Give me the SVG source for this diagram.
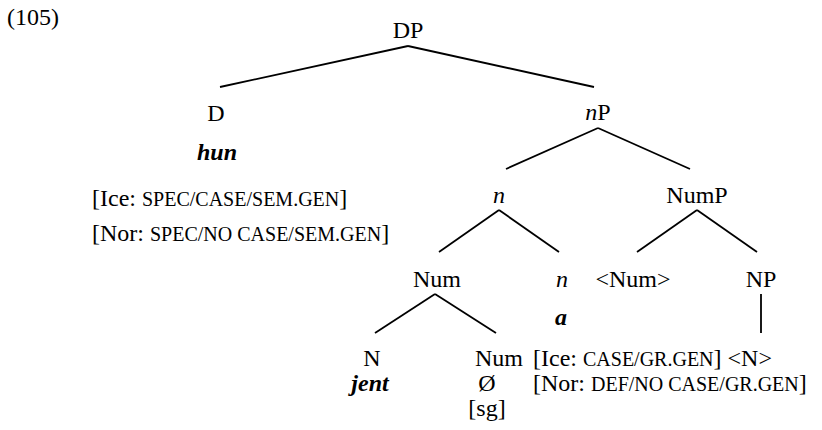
<svg xmlns="http://www.w3.org/2000/svg" width="822" height="430" viewBox="0 0 822 430">
<style>
text{font-family:"Liberation Serif","Times New Roman",serif;font-size:24px;fill:#000}
.m{text-anchor:middle}
.i{font-style:italic}
.bi{font-style:italic;font-weight:bold}
.sc{font-size:20px}
#edges line{stroke:#000;stroke-width:1.8;stroke-linecap:butt}
</style>
<rect width="822" height="430" fill="#fff"/>
<text x="7" y="25">(105)</text>
<g id="edges">
<line x1="408" y1="46" x2="220" y2="87"/>
<line x1="408" y1="46" x2="594" y2="87"/>
<line x1="598" y1="128" x2="506" y2="169"/>
<line x1="598" y1="128" x2="690" y2="169"/>
<line x1="499" y1="210" x2="439" y2="252"/>
<line x1="499" y1="210" x2="559" y2="252"/>
<line x1="697" y1="210" x2="637" y2="252"/>
<line x1="697" y1="210" x2="757" y2="252"/>
<line x1="435" y1="294" x2="375" y2="333"/>
<line x1="435" y1="294" x2="496" y2="333"/>
<line x1="761" y1="294" x2="761" y2="333"/>
</g>
<g id="DP"><text class="m" x="408" y="38">DP</text></g>
<g id="D">
<text class="m" x="216" y="121">D</text>
<text class="m bi" x="217" y="160">hun</text>
<text x="92" y="206">[Ice: <tspan class="sc">SPEC/CASE/SEM.GEN</tspan>]</text>
<text x="92" y="241">[Nor: <tspan class="sc">SPEC/NO CASE/SEM.GEN</tspan>]</text>
</g>
<g id="nP"><text class="m" x="598" y="120"><tspan class="i">n</tspan>P</text></g>
<g id="n1"><text class="m i" x="499" y="203">n</text></g>
<g id="NumP"><text class="m" x="697" y="203">NumP</text></g>
<g id="Num1"><text class="m" x="437" y="287">Num</text></g>
<g id="n2">
<text class="m i" x="562" y="287">n</text>
<text class="m bi" x="561" y="325">a</text>
</g>
<g id="NumTrace"><text class="m" x="633" y="287">&lt;Num&gt;</text></g>
<g id="NP"><text class="m" x="761" y="287">NP</text></g>
<g id="N">
<text class="m" x="372" y="366">N</text>
<text class="m bi" x="370" y="391">jent</text>
</g>
<g id="Num2">
<text class="m" x="499" y="366">Num</text>
<text class="m" x="487" y="391">Ø</text>
<text class="m" x="487" y="416">[sg]</text>
</g>
<g id="NPcontent">
<text x="533" y="366">[Ice: <tspan class="sc">CASE/GR.GEN</tspan>] &lt;N&gt;</text>
<text x="533" y="391">[Nor: <tspan class="sc">DEF/NO CASE/GR.GEN</tspan>]</text>
</g>
</svg>
